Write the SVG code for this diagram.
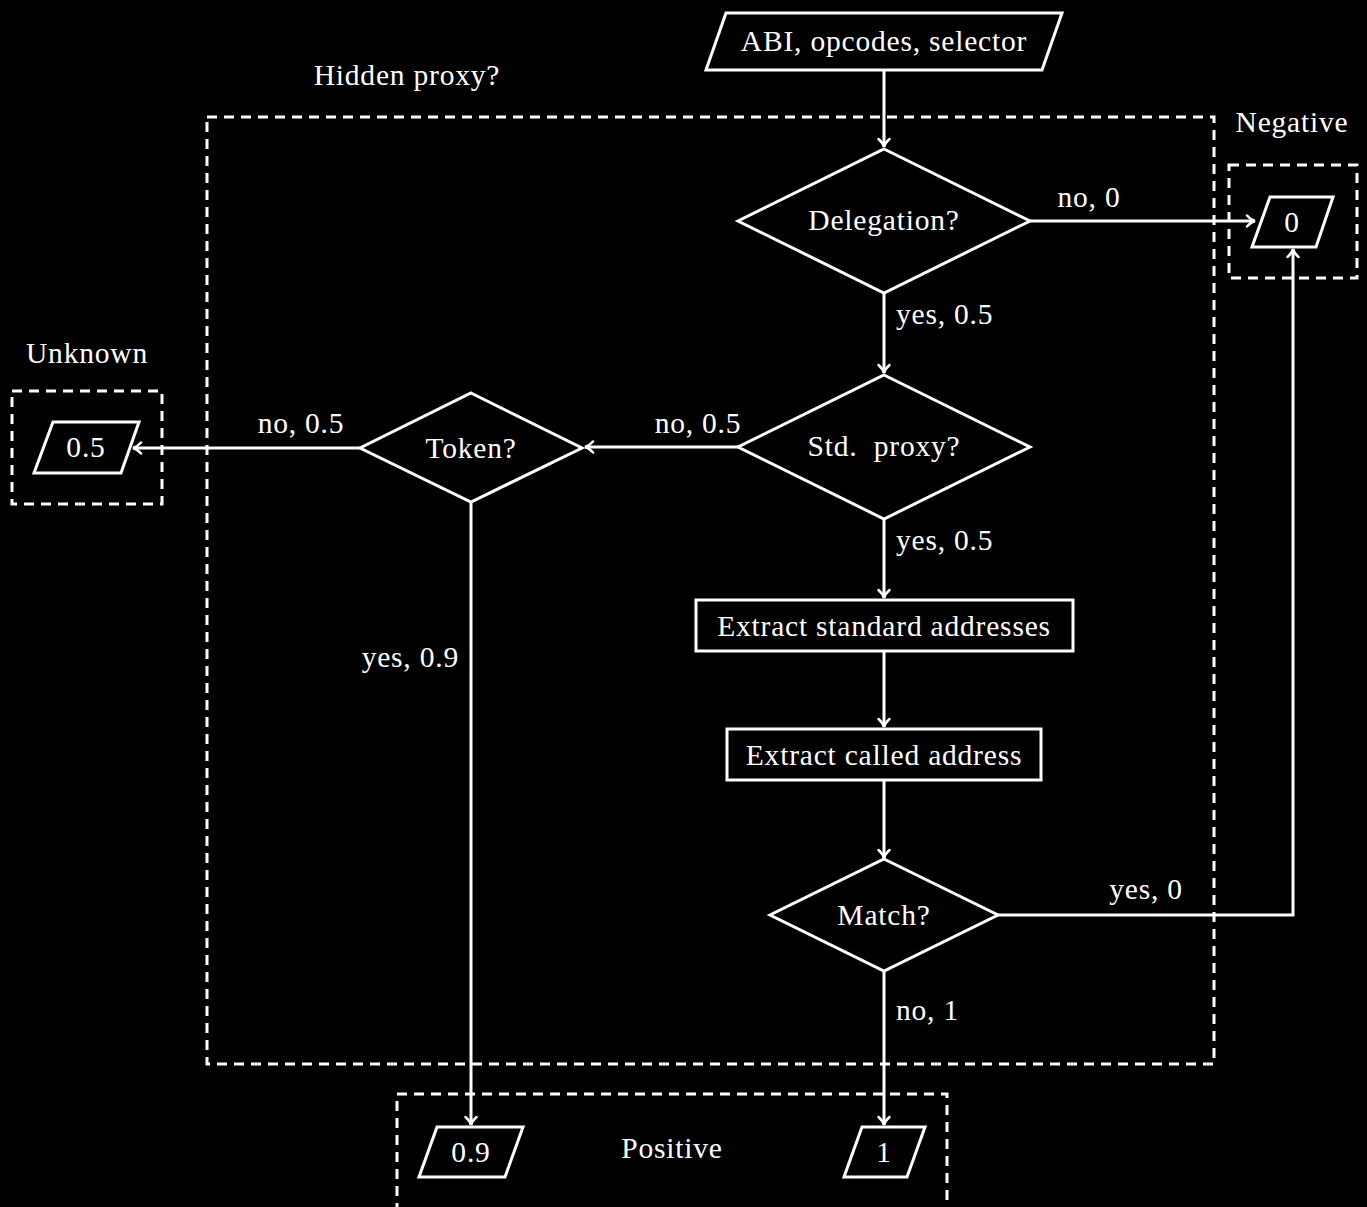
<svg xmlns="http://www.w3.org/2000/svg" width="1367" height="1207" viewBox="0 0 1367 1207" font-family="'Liberation Serif', 'DejaVu Serif', serif" font-size="29.5" letter-spacing="0.8">
<defs>
<style>
.bg{fill:#000}
.shape{fill:#000;stroke:#fff;stroke-width:3;stroke-linejoin:miter}
.group{fill:none;stroke:#fff;stroke-width:3;stroke-dasharray:10 7}
.conn{fill:none;stroke:#fff;stroke-width:3}
text{fill:#fff}
.c{text-anchor:middle;dominant-baseline:central}
.l{text-anchor:start;dominant-baseline:central}
.r{text-anchor:end;dominant-baseline:central}
</style>
<marker id="arr" markerWidth="14" markerHeight="14" refX="10" refY="7" orient="auto" markerUnits="userSpaceOnUse">
<path d="M2,1.5 Q6,6 10,7 Q6,8 2,12.5" fill="none" stroke="#fff" stroke-width="2.5" stroke-linecap="round"/>
</marker>
</defs>
<rect class="bg" x="0" y="0" width="1367" height="1207"/>

<g id="groups">
<rect class="group" x="207" y="117" width="1007" height="947"/>
<text class="c" x="407" y="75">Hidden proxy?</text>
<rect class="group" x="1229" y="165" width="128" height="113"/>
<text class="c" x="1292" y="122">Negative</text>
<rect class="group" x="12" y="391" width="150" height="113"/>
<text class="c" x="87" y="353">Unknown</text>
<rect class="group" x="397" y="1094" width="550" height="130"/>
<text class="c" x="672" y="1148">Positive</text>
</g>

<g id="connectors">
<path class="conn" d="M884,70 V147" marker-end="url(#arr)"/>
<path class="conn" d="M1030,221 H1255" marker-end="url(#arr)"/>
<text class="c" x="1089" y="197">no, 0</text>
<path class="conn" d="M884,293 V373" marker-end="url(#arr)"/>
<text class="l" x="896" y="314">yes, 0.5</text>
<path class="conn" d="M738,447 H585" marker-end="url(#arr)"/>
<text class="c" x="698" y="423">no, 0.5</text>
<path class="conn" d="M360,448 H133" marker-end="url(#arr)"/>
<text class="c" x="301" y="423">no, 0.5</text>
<path class="conn" d="M471,502 V1125" marker-end="url(#arr)"/>
<text class="r" x="459" y="657">yes, 0.9</text>
<path class="conn" d="M884,519 V598" marker-end="url(#arr)"/>
<text class="l" x="896" y="540">yes, 0.5</text>
<path class="conn" d="M884,651 V727" marker-end="url(#arr)"/>
<path class="conn" d="M884,780 V858" marker-end="url(#arr)"/>
<path class="conn" d="M998,915 H1293 V249" marker-end="url(#arr)"/>
<text class="c" x="1146" y="889">yes, 0</text>
<path class="conn" d="M884,971 V1125" marker-end="url(#arr)"/>
<text class="l" x="896" y="1010">no, 1</text>
</g>

<g id="input">
<polygon class="shape" points="726,13 1062,13 1042,70 706,70"/>
<text class="c" x="884" y="41">ABI, opcodes, selector</text>
</g>
<g id="delegation">
<polygon class="shape" points="884,149 1030,221 884,293 738,221"/>
<text class="c" x="884" y="220">Delegation?</text>
</g>
<g id="stdproxy">
<polygon class="shape" points="884,375 1030,447 884,519 738,447"/>
<text class="c" x="884" y="446" xml:space="preserve">Std.  proxy?</text>
</g>
<g id="token">
<polygon class="shape" points="471,393 582,448 471,502 360,448"/>
<text class="c" x="471" y="448">Token?</text>
</g>
<g id="extractstd">
<rect class="shape" x="696" y="600" width="377" height="51"/>
<text class="c" x="884" y="626">Extract standard addresses</text>
</g>
<g id="extractcalled">
<rect class="shape" x="727" y="729" width="314" height="51"/>
<text class="c" x="884" y="755">Extract called address</text>
</g>
<g id="match">
<polygon class="shape" points="884,859 998,915 884,971 770,915"/>
<text class="c" x="884" y="915">Match?</text>
</g>
<g id="out0">
<polygon class="shape" points="1270,197 1333,197 1316,247 1252,247"/>
<text class="c" x="1292" y="222">0</text>
</g>
<g id="out05">
<polygon class="shape" points="53,422 139,422 121,473 34,473"/>
<text class="c" x="86" y="447">0.5</text>
</g>
<g id="out09">
<polygon class="shape" points="437,1127 523,1127 505,1177 419,1177"/>
<text class="c" x="471" y="1152">0.9</text>
</g>
<g id="out1">
<polygon class="shape" points="862,1127 925,1127 907,1177 844,1177"/>
<text class="c" x="884" y="1152">1</text>
</g>
</svg>
